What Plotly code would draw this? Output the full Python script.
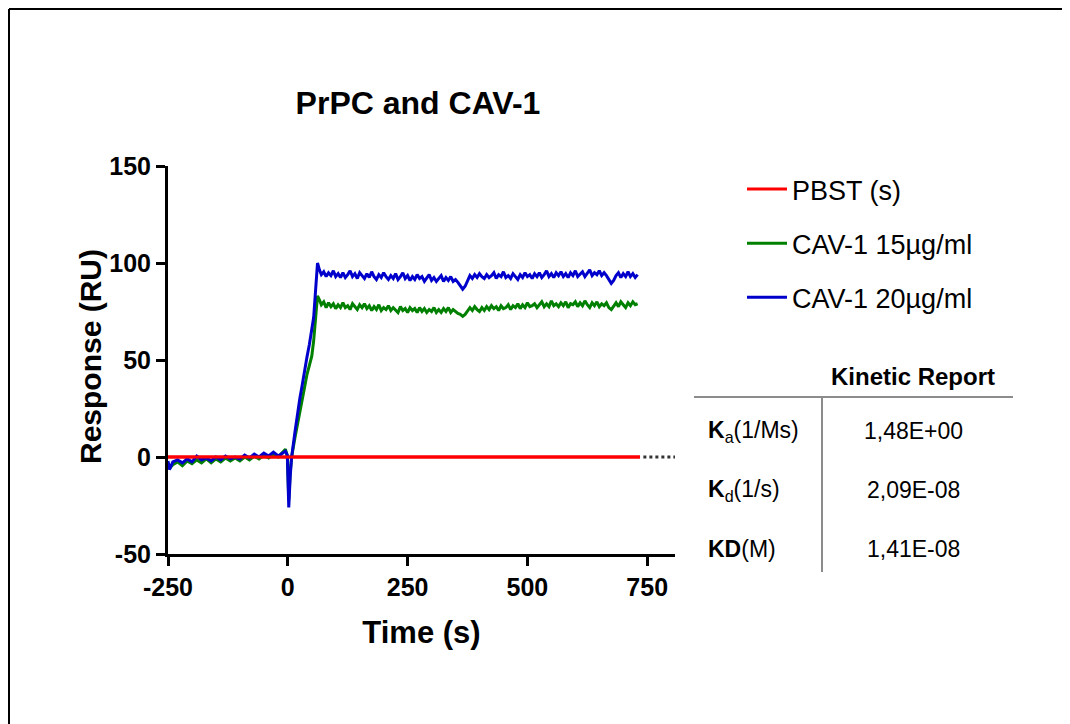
import plotly.graph_objects as go

# ---------------- data ----------------
time_s = [-250, -247, -240, -230, -220, -210, -200, -190, -180, -170, -160, -150, -140, -130,
          -120, -110, -100, -90, -80, -70, -60, -50, -40, -30, -20, -10,
          -5, -1, 2, 5, 8, 15, 20, 25, 30, 35, 40, 45, 50, 54, 58, 62,
          66, 70, 75, 80, 85, 90, 95, 100, 105, 110,
          115, 120, 125, 130, 135, 140, 145, 150, 155, 160,
          165, 170, 175, 180, 185, 190, 195, 200, 205, 210,
          215, 220, 225, 230, 235, 240, 245, 250, 255, 260,
          265, 270, 275, 280, 285, 290, 295, 300, 305, 310,
          315, 320, 325, 330, 335, 340, 345, 350, 355, 360,
          365, 370, 375, 380, 385, 390, 395, 400, 405, 410,
          415, 420, 425, 430, 435, 440, 445, 450, 455, 460,
          465, 470, 475, 480, 485, 490, 495, 500, 505, 510,
          515, 520, 525, 530, 535, 540, 545, 550, 555, 560,
          565, 570, 575, 580, 585, 590, 595, 600, 605, 610,
          615, 620, 625, 630, 635, 640, 645, 650, 655, 660,
          665, 670, 675, 680, 685, 690, 695, 700, 705, 710,
          715, 720, 725, 730]

cav1_20 = [-2.0, -6.5, -2.5, -1.5, -3.0, -1.0, -2.5, 0.5, -1.5, -0.5, -2.0, 0.0, -1.5, 0.5,
           -1.0, 0.0, -1.0, 1.0, -0.5, 1.5, 0.0, 2.0, 0.5, 2.5, 0.5, 2.0,
           3.0, 1.0, -26.0, -10.0, 0.0, 13.0, 23.0, 30.0, 37.0, 45.0, 51.5, 58.0, 65.0, 72.0, 86.0, 100.0,
           96.5, 94.0, 95.5, 93.0, 95.0, 93.5, 96.0, 93.0, 94.5, 92.5,
           95.0, 92.5, 94.0, 96.0, 93.0, 94.5, 92.0, 95.0, 93.5, 92.0,
           94.5, 92.5, 95.5, 93.0, 91.5, 94.0, 92.5, 95.0, 93.0, 91.5,
           93.5, 92.0, 94.5, 91.5, 93.0, 95.0, 92.0, 93.5, 91.0, 93.0,
           91.5, 94.0, 92.0, 93.0, 90.5, 92.5, 94.0, 91.0, 92.5, 90.5,
           92.0, 93.5, 90.5, 92.5, 91.0, 93.0, 90.5, 91.5, 90.0, 88.0,
           86.5, 88.0, 90.5, 93.5, 92.0, 94.0, 92.5, 94.5, 93.0, 92.0,
           94.0, 92.5, 93.5, 95.0, 92.0, 94.0, 93.0, 95.5, 92.5, 93.5,
           92.0, 94.5, 93.0, 91.5, 94.0, 92.5, 95.0, 93.0, 94.0, 92.0,
           94.5, 93.0, 95.0, 92.5, 94.0, 96.0, 93.0, 94.5, 92.5, 95.0,
           93.5, 95.5, 93.0, 94.5, 92.5, 95.0, 93.5, 96.0, 93.0, 94.5,
           95.5, 93.0, 94.5, 96.5, 93.5, 95.0, 94.0, 96.0, 93.5, 95.0,
           93.5, 91.5, 89.5, 91.0, 93.5, 95.0, 92.5, 94.5, 93.0, 95.5,
           93.0, 94.5, 92.5, 94.0]

cav1_15 = [-3.0, -6.0, -4.0, -2.5, -4.5, -2.0, -3.5, -1.5, -3.0, -1.0, -3.0, -1.0, -2.5, -0.5,
           -2.0, -0.5, -2.0, 0.0, -1.5, 0.5, -1.0, 1.0, -0.5, 1.5, 0.0, 2.5,
           4.0, 0.5, -22.0, -8.0, 0.0, 10.0, 17.0, 23.5, 30.0, 36.0, 42.5, 47.0, 52.0, 60.0, 72.0, 83.0,
           81.0, 78.5, 80.0, 77.0, 79.5, 77.5, 79.0, 76.5, 78.5, 77.0,
           79.5, 77.0, 78.0, 76.0, 79.0, 77.5, 76.0, 78.5, 77.0, 79.0,
           76.5, 78.0, 75.5, 77.5, 76.0, 78.5, 75.5, 77.0, 76.0, 78.0,
           75.5, 77.0, 76.0, 74.5, 77.5, 75.5, 76.5, 74.5, 77.0, 75.5,
           76.5, 74.5, 77.0, 75.0, 76.5, 74.5, 76.0, 75.0, 77.0, 74.5,
           76.0, 74.5, 76.5, 75.0, 77.0, 74.5, 76.0, 75.0, 74.0, 73.5,
           72.5, 73.5, 75.0, 77.0, 75.5, 77.5, 76.0, 75.0, 77.0, 75.5,
           77.5, 76.0, 78.0, 76.5, 77.5, 75.5, 78.0, 76.5, 77.0, 78.5,
           76.0, 78.0, 77.0, 79.0, 76.5, 78.5, 77.0, 79.5, 77.5, 78.0,
           79.0, 77.0, 78.5, 80.0, 77.5, 79.0, 77.5, 80.5, 78.0, 79.0,
           77.5, 79.5, 78.0, 80.0, 77.0, 79.0, 78.5, 80.0, 77.5, 79.5,
           78.0, 80.5, 78.5, 77.0, 79.5, 78.0, 80.0, 77.5, 79.0, 78.0,
           79.5, 77.0, 76.0, 78.0, 79.5, 77.5, 80.0, 78.5, 77.0, 79.5,
           78.0, 80.0, 78.5, 79.0]

pbst_time = [-250, 735]
pbst_resp = [0, 0]
pbst_ext_time = [742, 808]
pbst_ext_resp = [0, 0]

series_names = ["PBST (s)", "CAV-1 15µg/ml", "CAV-1 20µg/ml"]
series_colors = ["#ff0000", "#008000", "#0000cc"]

x_ticks = [-250, 0, 250, 500, 750]
x_ticktext = ["-250", "0", "250", "500", "750"]
y_ticks = [-50, 0, 50, 100, 150]
y_ticktext = ["-50", "0", "50", "100", "150"]

table_title = "Kinetic Report"
table_labels = ["<b>K</b><sub>a</sub>(1/Ms)", "<b>K</b><sub>d</sub>(1/s)", "<b>KD</b>(M)"]
table_values = ["1,48E+00", "2,09E-08", "1,41E-08"]

# ---------------- figure ----------------
W, H = 1062, 716
OFF = 8  # page body margin
L, R, T, B = 160, 395, 158, 170
PW, PH = W - L - R, H - T - B


def px(x):
    return (x - OFF - L) / PW


def py(y):
    return (H - B - (y - OFF)) / PH


arial = "Liberation Sans, Arial, sans-serif"
narrow = "Liberation Sans Narrow, Arial Narrow, Liberation Sans, Arial, sans-serif"

fig = go.Figure()
fig.add_trace(go.Scatter(x=pbst_time, y=pbst_resp, mode="lines", name=series_names[0],
                         line=dict(color=series_colors[0], width=3), legendgroup="a"))
fig.add_trace(go.Scatter(x=time_s, y=cav1_15, mode="lines", name=series_names[1],
                         line=dict(color=series_colors[1], width=3), legendgroup="b"))
fig.add_trace(go.Scatter(x=time_s, y=cav1_20, mode="lines", name=series_names[2],
                         line=dict(color=series_colors[2], width=3), legendgroup="c"))
fig.add_trace(go.Scatter(x=pbst_time, y=pbst_resp, mode="lines", showlegend=False,
                         line=dict(color=series_colors[0], width=3), hoverinfo="skip"))
fig.add_trace(go.Scatter(x=pbst_ext_time, y=pbst_ext_resp, mode="lines", showlegend=False,
                         line=dict(color="#333333", width=3, dash="dot"), hoverinfo="skip"))

fig.update_layout(
    width=W, height=H,
    margin=dict(l=L, r=R, t=T, b=B),
    paper_bgcolor="white", plot_bgcolor="white",
    title=dict(text="<b>PrPC and CAV-1</b>", x=(418 - OFF) / W, xanchor="center",
               y=1 - (103 - OFF) / H, yanchor="middle",
               font=dict(family=arial, size=32, color="black")),
    legend=dict(x=px(742), y=py(165), xanchor="left", yanchor="top",
                font=dict(family=arial, size=27, color="black"),
                tracegroupgap=16, itemwidth=40, bgcolor="rgba(0,0,0,0)"),
    showlegend=True,
)

fig.update_xaxes(range=[-250, 808], tickvals=x_ticks, ticktext=x_ticktext, showgrid=False, zeroline=False,
                 showline=True, linecolor="black", linewidth=3,
                 ticks="outside", ticklen=9, tickwidth=3, tickcolor="black",
                 tickfont=dict(family=arial, size=25, color="black", weight="bold"),
                 title=dict(text="<b>Time (s)</b>", standoff=22,
                            font=dict(family=arial, size=31, color="black")))
fig.update_yaxes(range=[-50, 150], tickvals=y_ticks, ticktext=y_ticktext, showgrid=False, zeroline=False,
                 showline=True, linecolor="black", linewidth=3,
                 ticks="outside", ticklen=9, tickwidth=3, tickcolor="black",
                 tickfont=dict(family=arial, size=25, color="black", weight="bold"))

shapes = []
# outer frame (top and left edges visible)
shapes.append(dict(type="line", xref="paper", yref="paper", x0=px(9), x1=px(1090), y0=py(9), y1=py(9),
                   line=dict(color="black", width=2)))
shapes.append(dict(type="line", xref="paper", yref="paper", x0=px(9), x1=px(9), y0=py(9), y1=py(740),
                   line=dict(color="black", width=2)))
# table lines
shapes.append(dict(type="line", xref="paper", yref="paper", x0=px(694), x1=px(1013), y0=py(397), y1=py(397),
                   line=dict(color="#8c8c8c", width=2)))
shapes.append(dict(type="line", xref="paper", yref="paper", x0=px(822), x1=px(822), y0=py(396), y1=py(572),
                   line=dict(color="#8c8c8c", width=2)))

annotations = [
    dict(text="<b>Response (RU)</b>", x=px(90), y=py(357), xref="paper", yref="paper",
         xanchor="center", yanchor="middle", textangle=-90, showarrow=False,
         font=dict(family=arial, size=30, color="black")),
    dict(text="<b>" + table_title + "</b>", x=px(913), y=py(376), xref="paper", yref="paper",
         xanchor="center", yanchor="middle", showarrow=False,
         font=dict(family=narrow, size=24, color="black")),
]
row_y = [431, 490, 549]
for lab, val, yy in zip(table_labels, table_values, row_y):
    annotations.append(dict(text=lab, x=px(706), y=py(yy), xref="paper", yref="paper",
                            xanchor="left", yanchor="middle", showarrow=False,
                            font=dict(family=narrow, size=23, color="black")))
    annotations.append(dict(text=val, x=px(913), y=py(yy), xref="paper", yref="paper",
                            xanchor="center", yanchor="middle", showarrow=False,
                            font=dict(family=narrow, size=23, color="black")))

fig.update_layout(shapes=shapes, annotations=annotations)
fig.write_html("out.html")
